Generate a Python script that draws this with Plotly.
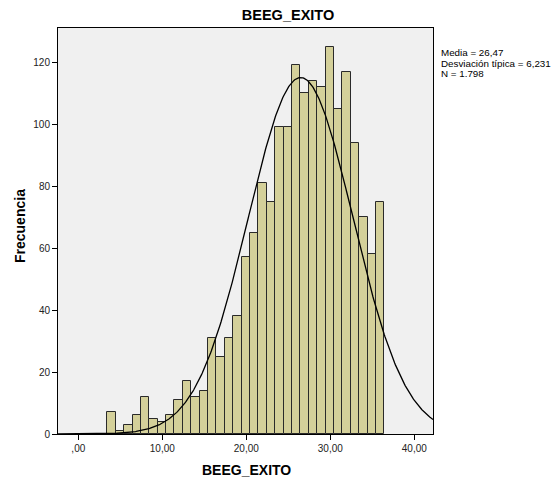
import numpy as np
import plotly.graph_objects as go

# Histogram of BEEG_EXITO: frequency per bin (bin width 1)
counts = [7, 1, 3, 6, 12, 5, 4, 6, 11, 17, 12, 14, 31, 25, 31, 38, 57, 65,
          81, 75, 99, 99, 119, 110, 114, 112, 125, 105, 117, 94, 70, 58, 75]
bin_start = 3.45
bin_width = 1.0

# Summary statistics shown next to the plot
mean = 26.47
std = 6.231
n_obs = 1798

x_tick_vals = [0, 10, 20, 30, 40]
x_tick_text = [",00", "10,00", "20,00", "30,00", "40,00"]
y_tick_vals = [0, 20, 40, 60, 80, 100, 120]
y_tick_text = ["0", "20", "40", "60", "80", "100", "120"]

x_range = [-2.42, 42.23]
y_range = [0, 131.1]

centers = bin_start + bin_width * (np.arange(len(counts)) + 0.5)

# Normal curve scaled to the histogram (N * bin width * pdf)
xc = np.linspace(x_range[0], x_range[1], 500)
yc = n_obs * bin_width * np.exp(-0.5 * ((xc - mean) / std) ** 2) / (std * np.sqrt(2 * np.pi))

font = "Liberation Sans, Arial, sans-serif"
W, H = 559, 484
ML, MR, MT, MB = 58, 126, 28, 50
PW, PH = W - ML - MR, H - MT - MB

fig = go.Figure()
fig.add_trace(go.Bar(
    x=centers, y=counts, width=bin_width,
    marker=dict(color="#D4D09A", line=dict(color="#2a2a2a", width=1)),
    hoverinfo="x+y",
))
fig.add_trace(go.Scatter(
    x=xc, y=yc, mode="lines",
    line=dict(color="black", width=1.3),
    hoverinfo="skip",
))

fig.update_layout(
    width=W, height=H,
    margin=dict(l=ML, r=MR, t=MT, b=MB),
    paper_bgcolor="white",
    plot_bgcolor="#F0F0F0",
    showlegend=False,
    bargap=0,
    font=dict(family=font, color="#222222"),
    title=dict(text="<b>BEEG_EXITO</b>", x=288 / W, xanchor="center",
               y=1 - 15 / H, yanchor="middle",
               font=dict(size=14.5, color="black", family=font)),
)
fig.update_xaxes(
    range=x_range, tickvals=x_tick_vals, ticktext=x_tick_text,
    showgrid=False, zeroline=False, automargin=False,
    showline=True, linecolor="black", linewidth=1, mirror=True,
    ticks="outside", ticklen=5, tickcolor="black",
    tickfont=dict(size=10, color="#222222"),
)
fig.update_yaxes(
    range=y_range, tickvals=y_tick_vals, ticktext=y_tick_text,
    showgrid=False, zeroline=False, automargin=False,
    showline=True, linecolor="black", linewidth=1, mirror=True,
    ticks="outside", ticklen=5, tickcolor="black",
    tickfont=dict(size=10, color="#222222"),
)

# Axis titles
fig.add_annotation(
    text="<b>BEEG_EXITO</b>", xref="paper", yref="paper",
    x=(246 - ML) / PW, y=-(470 - MT - PH) / PH, xanchor="center", yanchor="middle",
    showarrow=False, font=dict(size=14, color="black", family=font),
)
fig.add_annotation(
    text="<b>Frecuencia</b>", xref="paper", yref="paper", textangle=-90,
    x=-(ML - 20) / PW, y=1 - (226 - MT) / PH, xanchor="center", yanchor="middle",
    showarrow=False, font=dict(size=14, color="black", family=font),
)

stats_lines = [
    f"Media = {mean:.2f}".replace(".", ","),
    f"Desviación típica = {std:.3f}".replace(".", ","),
    f"N = {n_obs:,}".replace(",", "."),
]
for i, line in enumerate(stats_lines):
    fig.add_annotation(
        text=line, xref="paper", yref="paper",
        x=(439 - ML) / PW, xanchor="left",
        y=1 - (52 + 11 * i - MT) / PH, yanchor="middle",
        showarrow=False, font=dict(size=9.8, color="black", family=font),
    )

fig.write_html("out.html")
